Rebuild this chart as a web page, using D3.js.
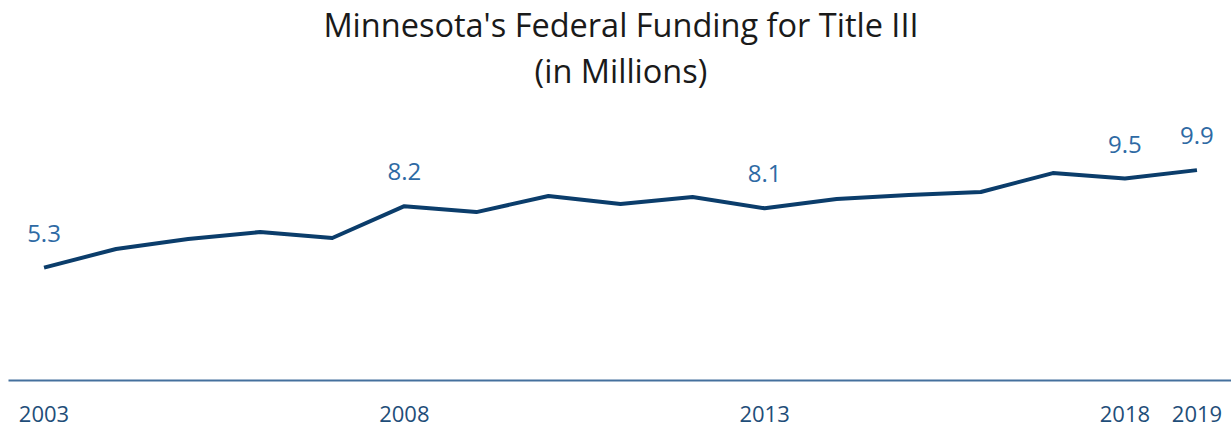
<!DOCTYPE html>
<html><head><meta charset="utf-8">
<script src="https://cdn.jsdelivr.net/npm/d3@7"></script>
<style>body{margin:0;background:#fff}svg{display:block}</style>
</head><body>
<svg id="c" width="1231" height="428"></svg>
<script>
const years = ["2003","2004","2005","2006","2007","2008","2009","2010","2011","2012","2013","2014","2015","2016","2017","2018","2019"];
const funding = [5.3,6.18,6.65,6.98,6.7,8.2,7.92,8.68,8.3,8.63,8.1,8.54,8.73,8.87,9.76,9.5,9.9];
const tickYears = ["2003","2008","2013","2018","2019"];
const labelYears = ["2003","2008","2013","2018","2019"];
const titleLines = ["Minnesota's Federal Funding for Title III","(in Millions)"];

const svg = d3.select("#c");
const font = "'Open Sans', sans-serif";
const x = d3.scaleBand().domain(years).range([8, 1233]);
const y = d3.scaleLinear().domain([0, 12]).range([380, 125.6]);
const cx = d => x(d) + x.bandwidth()/2;

svg.append("g").selectAll("text").data(titleLines).join("text")
  .attr("x", 621).attr("y", (d,i)=> 37 + i*46)
  .attr("text-anchor","middle").attr("font-family",font).attr("font-size",32.5)
  .attr("fill","#1a1a1a").text(d=>d);

const axis = d3.axisBottom(x).tickValues(tickYears).tickSize(0).tickPadding(26);
const ag = svg.append("g").attr("transform","translate(0,380)").call(axis);
ag.select(".domain").attr("stroke","#44709d").attr("stroke-width",2);
ag.selectAll("text").attr("font-family",font).attr("font-size",22).attr("fill","#1f4e79");

const line = d3.line().x((d,i)=>cx(years[i])).y(d=>y(d));
svg.append("path").datum(funding).attr("d",line).attr("fill","none")
  .attr("stroke","#0b3d6b").attr("stroke-width",4).attr("stroke-linejoin","round");

svg.append("g").selectAll("text").data(labelYears).join("text")
  .attr("x", d=>cx(d)).attr("y", d=>y(funding[years.indexOf(d)]) - 26)
  .attr("text-anchor","middle").attr("font-family",font).attr("font-size",24)
  .attr("fill","#2e6aa4").text(d=>funding[years.indexOf(d)].toFixed(1));
</script>
</body></html>
